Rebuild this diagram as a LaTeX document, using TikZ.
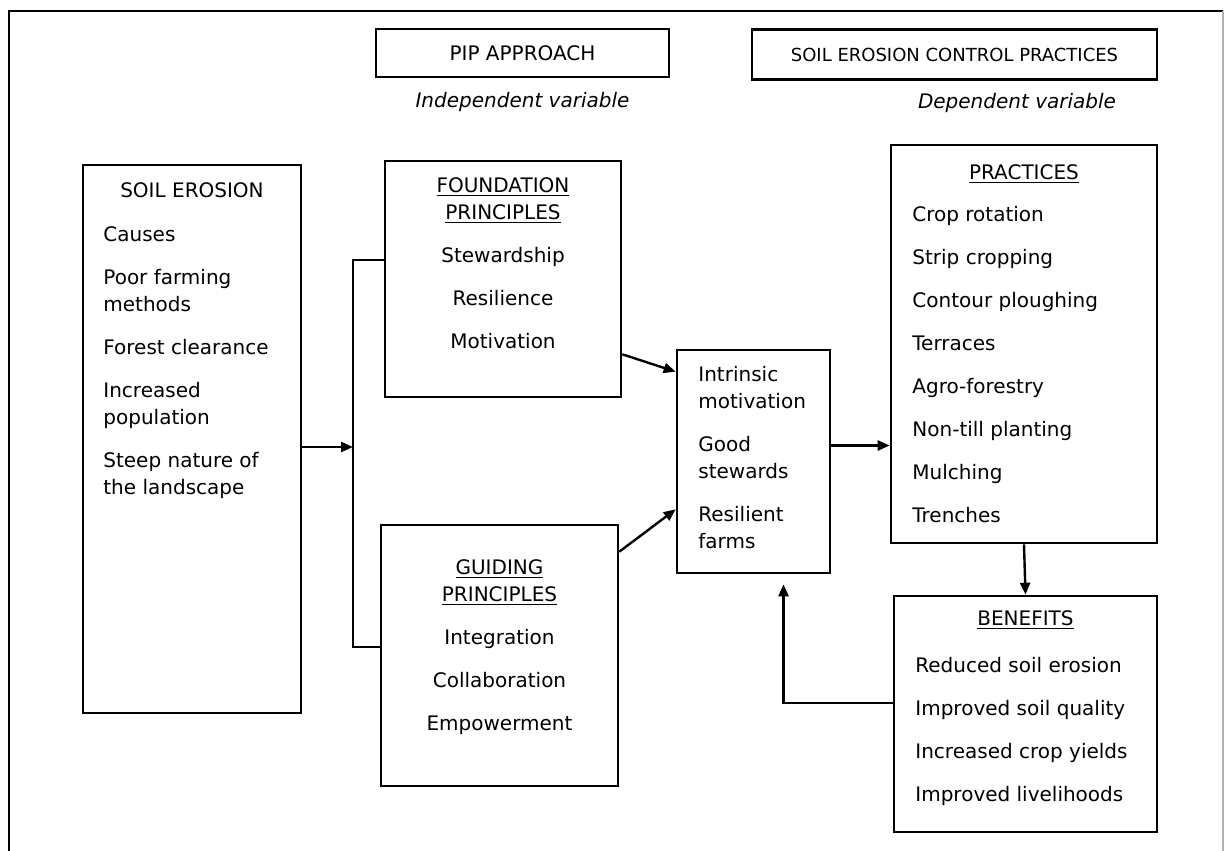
\documentclass[tikz,border=0pt]{standalone}
\usepackage{fontspec}
\setmainfont{DejaVu Sans}
\usetikzlibrary{positioning,arrows.meta}

\begin{document}
\begin{tikzpicture}[x=0.5pt, y=-0.5pt,
      box/.style={draw, line width=1.3pt, inner sep=0pt},
      head/.style={box, font=\fontsize{10}{13.5}\selectfont},
      txt/.style={inner sep=0pt, font=\fontsize{10}{13.5}\selectfont},
      note/.style={font=\fontsize{10}{12}\selectfont\itshape},
      arr/.style={-{Triangle[length=6pt,width=5pt]}, line width=1.2pt}]
    \useasboundingbox (0,0) rectangle (1228,851);
    % outer frame, its bottom edge is cut off
    \draw[line width=1.3pt] (9,851) -- (9,11) -- (1223,11);
    \draw[gray!60, line width=0.6pt] (1223,11) -- (1223,851);

    % headers
    \node[head, minimum width=146.5pt, minimum height=24pt] (pip) at (522.5,53) {PIP APPROACH};
    \node[head, font=\fontsize{9}{12}\selectfont, minimum width=202.5pt,
          minimum height=25pt] (secp) at (954.5,54.5) {SOIL EROSION CONTROL PRACTICES};
    \node[note, below=3.6pt of pip] (indep) {Independent variable};
    \node[note, anchor=base] (dep) at (1017,108) {Dependent variable};

    % boxes
    \node[box, minimum width=109pt, minimum height=274pt] (soil) at (192,439) {};
    \node[box, minimum width=118pt, minimum height=118pt] (found) at (503,279) {};
    \node[box, minimum width=118.5pt, minimum height=130.5pt] (guide) at (499.5,655.5) {};
    \node[box, minimum width=76.5pt, minimum height=111.5pt] (outc) at (753.5,461.5) {};
    \node[box, minimum width=133pt, minimum height=199pt] (pract) at (1024,344) {};
    \node[box, minimum width=131.5pt, minimum height=118pt] (benef) at (1025.5,714) {};

    % box texts
    \node[txt, anchor=base] (soilhd) at (192,197) {SOIL EROSION};
    \node[txt, anchor=north west, align=left] (causes) at (103,226)
      {Causes\\[8pt]Poor farming\\methods\\[8pt]Forest clearance\\[8pt]Increased\\population\\[8pt]Steep nature of\\the landscape};
    \node[txt, anchor=north, align=center] (foundtxt) at (503,177)
      {\underline{FOUNDATION}\\\underline{PRINCIPLES}\\[8pt]Stewardship\\[8pt]Resilience\\[8pt]Motivation};
    \node[txt, anchor=north, align=center] (guidetxt) at (499.5,559)
      {\underline{GUIDING}\\\underline{PRINCIPLES}\\[8pt]Integration\\[8pt]Collaboration\\[8pt]Empowerment};
    \node[txt, anchor=north west, align=left] (outctxt) at (698,366)
      {Intrinsic\\motivation\\[8pt]Good\\stewards\\[8pt]Resilient\\farms};
    \node[txt, anchor=base] (practhd) at (1024,179) {\underline{PRACTICES}};
    \node[txt, anchor=north west, align=left] (practtxt) at (912,206)
      {Crop rotation\\[8pt]Strip cropping\\[8pt]Contour ploughing\\[8pt]Terraces\\[8pt]Agro-forestry\\[8pt]Non-till planting\\[8pt]Mulching\\[8pt]Trenches};
    \node[txt, anchor=base] (benefhd) at (1025.5,625) {\underline{BENEFITS}};
    \node[txt, anchor=north west, align=left] (beneftxt) at (915,657)
      {Reduced soil erosion\\[8pt]Improved soil quality\\[8pt]Increased crop yields\\[8pt]Improved livelihoods};

    % connectors
    \coordinate (jn) at (353,447);
    \coordinate (jtop) at (353,260);
    \coordinate (jbot) at (353,647);
    \coordinate (mid) at ([yshift=8pt]outc.east);
    \draw[arr] (soil.east |- jn) -- (jn);
    \draw[line width=1.2pt] (found.west |- jtop) -- (jtop) -- (jbot) -- (guide.west |- jbot);
    \draw[arr] ([yshift=22pt]found.south east) -- ([yshift=-11.5pt]outc.north west);
    \draw[arr] ([yshift=-14pt]guide.north east) -- ([yshift=32.5pt]outc.south west);
    \draw[arr] (mid) -- (mid -| pract.west);
    \draw[arr] (pract.south) -- (benef.north);
    \draw[arr] ([yshift=5.5pt]benef.west) -| ([xshift=15pt,yshift=-5pt]outc.south);
  \end{tikzpicture}
\end{document}
